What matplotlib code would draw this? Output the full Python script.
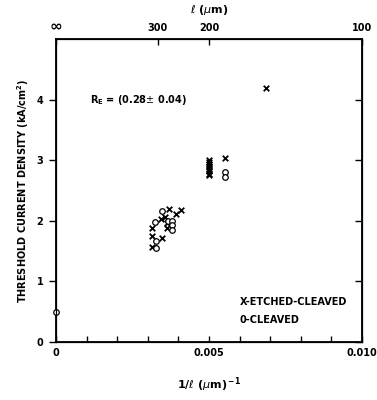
import matplotlib
matplotlib.use("Agg")
import matplotlib.pyplot as plt
import numpy as np

# Etched-cleaved (x markers)
etched_x = [0.00313, 0.00313, 0.00313, 0.00345, 0.00343, 0.00357, 0.00362, 0.00362,
            0.00369, 0.00391, 0.00408,
            0.005, 0.005, 0.005, 0.005, 0.005, 0.005, 0.005, 0.005, 0.005,
            0.00552, 0.00688]
etched_y = [1.57, 1.75, 1.88, 1.71, 2.03, 2.06, 1.96, 1.88,
            2.20, 2.11, 2.18,
            3.00, 2.97, 2.94, 2.91, 2.88, 2.85, 2.82, 2.78, 2.75,
            3.03, 4.19]

# Cleaved (o markers)
cleaved_x = [0.0, 0.00326, 0.00326, 0.00325, 0.00345, 0.00367, 0.0038, 0.0038, 0.0038,
             0.00552, 0.00552]
cleaved_y = [0.50, 1.55, 1.67, 1.98, 2.16, 2.00, 2.00, 1.93, 1.85,
             2.80, 2.72]

xticks_major = [0.0, 0.005, 0.010]
xticklabels = ["0", "0.005", "0.010"]
xticks_minor = [0.001, 0.002, 0.003, 0.004, 0.006, 0.007, 0.008, 0.009]
yticks = [0, 1, 2, 3, 4]
top_lengths = [np.inf, 300, 200, 100]
top_labels = ["\u221e", "300", "200", "100"]

fs = 7
plt.rcParams['font.family'] = ['DejaVu Sans']
fig = plt.figure(figsize=(3.77, 4.0), dpi=100)
ax = fig.add_axes([0.1485, 0.145, 0.8115, 0.7575])

ax.scatter(etched_x, etched_y, marker='x', s=16, color='black', linewidths=1.3, zorder=3)
ax.scatter(cleaved_x, cleaved_y, marker='o', s=16, facecolors='white', edgecolors='black',
           linewidths=0.9, zorder=4, clip_on=False)

ax.set_xlim(0, 0.010)
ax.set_ylim(0, 5)
for s in ax.spines.values():
    s.set_linewidth(1.3)

ax.set_xticks(xticks_major)
ax.set_xticklabels(xticklabels, fontsize=fs, fontweight='bold')
ax.set_xticks(xticks_minor, minor=True)
ax.tick_params(axis='x', which='both', direction='in', length=4, width=1, pad=4)
ax.set_yticks(yticks)
ax.set_yticklabels([str(v) for v in yticks], fontsize=fs, fontweight='bold')
ax.tick_params(axis='y', which='both', direction='out', length=5, width=1, pad=4)

# right ticks (inward)
axr = ax.twinx()
axr.set_ylim(0, 5)
axr.set_yticks(yticks)
axr.set_yticklabels([])
axr.tick_params(axis='y', direction='in', length=5, width=1)

# top axis
axt = ax.twiny()
axt.set_xlim(0, 0.010)
top_pos = [0.0 if np.isinf(l) else 1.0 / l for l in top_lengths]
axt.set_xticks(top_pos)
axt.set_xticklabels(top_labels, fontsize=fs, fontweight='bold')
axt.tick_params(axis='x', direction='in', length=4, width=1, pad=4)
axt.get_xticklabels()[0].set_fontsize(11)

axt.set_xlabel(r"$\ell$ ($\mu$m)", fontsize=fs + 1, fontweight='bold', labelpad=4)
ax.set_xlabel(r"1/$\ell$ ($\mu$m)$^{\,\mathbf{-1}}$", fontsize=fs + 1, fontweight='bold', labelpad=13)
ax.set_ylabel(r"THRESHOLD CURRENT DENSITY (kA/cm$^{\mathbf{2}}$)", fontsize=fs, fontweight='bold', labelpad=4)

ax.text(0.0011, 4.0, r"R$_{\mathbf{E}}$ = (0.28$\pm$ 0.04)", fontsize=fs, fontweight='bold', va='center')
ax.text(0.0060, 0.66, "X-ETCHED-CLEAVED", fontsize=fs, fontweight='bold', va='center')
ax.text(0.0060, 0.36, "0-CLEAVED", fontsize=fs, fontweight='bold', va='center')

fig.savefig("out.png", dpi=100, facecolor='white')
